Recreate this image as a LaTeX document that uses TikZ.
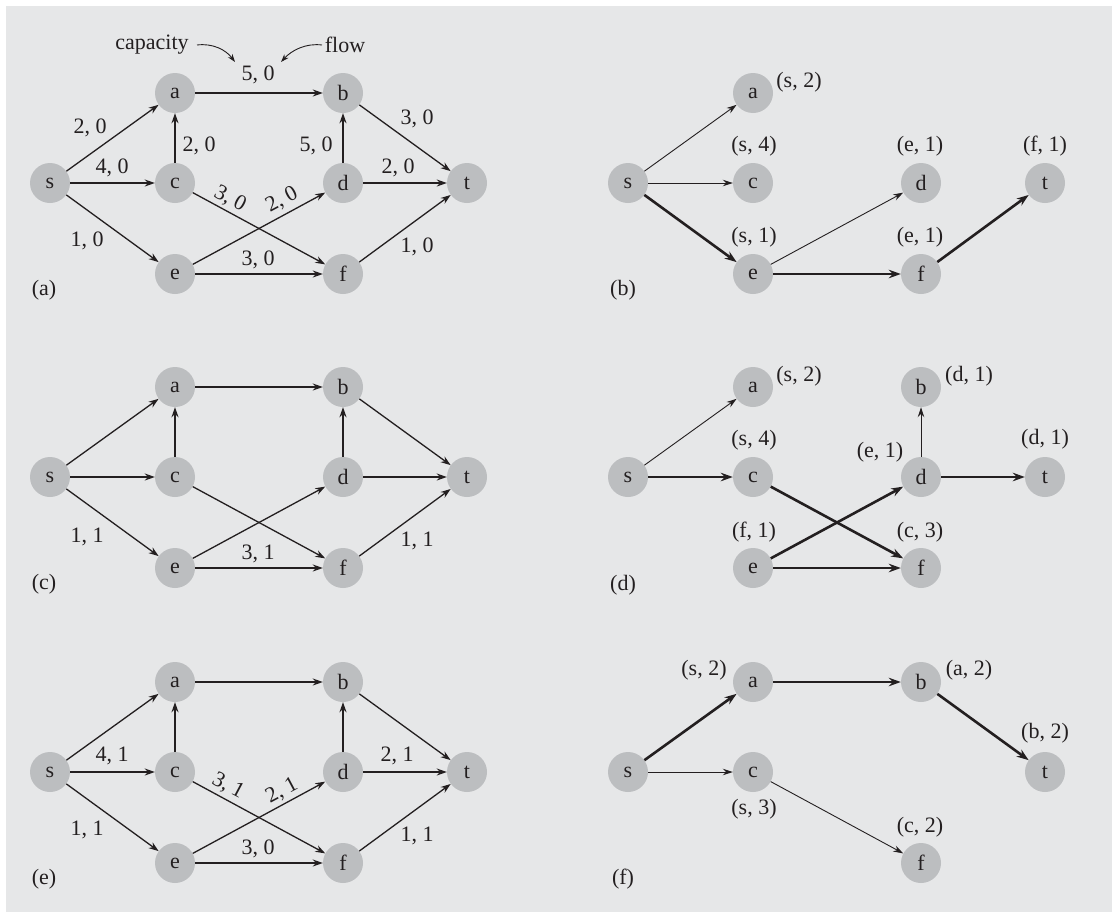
\documentclass[tikz,border=0pt]{standalone}
\usepackage{fontspec}
\setmainfont{Liberation Serif}
\newfontfamily\timesfont{Liberation Serif}
\usetikzlibrary{arrows.meta}
\definecolor{bggray}{HTML}{E6E7E8}
\definecolor{ndgray}{HTML}{BCBEC0}
\definecolor{ink}{HTML}{231F20}
\tikzset{
  vtx/.style={circle, fill=ndgray, minimum size=40bp, inner sep=0pt, font=\timesfont\fontsize{22bp}{24bp}\selectfont, text=ink},
  lab/.style={font=\timesfont\fontsize{22bp}{24bp}\selectfont, text=ink, inner sep=0pt},
  arc/.style={draw=ink, line width=1.3bp, -{Stealth[length=10bp,width=7bp]}},
  narrowarc/.style={draw=ink, line width=0.9bp, -{Stealth[length=10bp,width=6.5bp]}},
  boldarc/.style={draw=ink, line width=2.6bp, -{Stealth[length=12bp,width=8.5bp]}},
  note/.style={draw=ink, line width=0.9bp, -{Stealth[length=8bp,width=5.5bp]}}
}
\newcommand\mknodes[1]{%
  \node[vtx] (#1s) at (50,183) {s};
  \node[vtx] (#1a) at (175,93) {a};
  \node[vtx] (#1c) at (175,183) {c};
  \node[vtx] (#1e) at (175,274) {e};
  \node[vtx] (#1b) at (343,93) {b};
  \node[vtx] (#1d) at (343,183) {d};
  \node[vtx] (#1f) at (343,274) {f};
  \node[vtx] (#1t) at (467,183) {t};
}
\newcommand\fullarcs[1]{%
  \foreach \u/\v in {s/a,s/c,s/e,c/a,a/b,e/d,c/f,e/f,d/b,b/t,d/t,f/t}
    \draw[arc] (#1\u) -- (#1\v);
}
\begin{document}
\begin{tikzpicture}[x=1bp,y=-1bp]
\useasboundingbox (0,0) rectangle (1112,912);
\fill[bggray] (6,6) rectangle (1112,912);

% ---------- (a)
\begin{scope}
  \mknodes{A}
  \fullarcs{A}
  \node[lab] (Acap) at (152,45) {capacity};
  \node[lab] (Aflow) at (345,45) {flow};
  \node[lab] (Lab) at (258,75) {5, 0};
  \coordinate (Acapstart) at (197,45);
  \coordinate (Acapend) at (235,62);
  \coordinate (Aflowstart) at (322,45);
  \coordinate (Aflowend) at (281,62);
  \draw[note] (Acapstart) .. controls (213,43) and (226,50) .. (Acapend);
  \draw[note] (Aflowstart) .. controls (306,43) and (292,50) .. (Aflowend);
  \node[lab] (Lsa) at (90,128) {2, 0};
  \node[lab] (Lsc) at (112,168) {4, 0};
  \node[lab] (Lse) at (87,241) {1, 0};
  \node[lab] (Lca) at (199,146) {2, 0};
  \node[lab] (Ldb) at (316,146) {5, 0};
  \node[lab] (Lbt) at (417,119) {3, 0};
  \node[lab] (Ldt) at (398,168) {2, 0};
  \node[lab] (Lft) at (417,247) {1, 0};
  \node[lab] (Lef) at (258,260) {3, 0};
  \node[lab, rotate=-28] (Lcf) at (230,199) {3, 0};
  \node[lab, rotate=28] (Led) at (282,200) {2, 0};
  \node[lab] (Apanel) at (44,290) {(a)};
\end{scope}

% ---------- (b)
\begin{scope}[shift={(578,0)}]
  \node[vtx] (Bs) at (50,183) {s};
  \node[vtx] (Ba) at (175,93) {a};
  \node[vtx] (Bc) at (175,183) {c};
  \node[vtx] (Be) at (175,274) {e};
  \node[vtx] (Bd) at (343,183) {d};
  \node[vtx] (Bf) at (343,274) {f};
  \node[vtx] (Bt) at (467,183) {t};
  \draw[narrowarc] (Bs) -- (Ba);
  \draw[narrowarc] (Bs) -- (Bc);
  \draw[boldarc] (Bs) -- (Be);
  \draw[narrowarc] (Be) -- (Bd);
  \draw[boldarc] (Be) -- (Bf);
  \draw[boldarc] (Bf) -- (Bt);
  \node[lab] (Bla) at (221,82) {(s, 2)};
  \node[lab] (Blc) at (176,146) {(s, 4)};
  \node[lab] (Bld) at (342,146) {(e, 1)};
  \node[lab] (Blt) at (467,146) {(f, 1)};
  \node[lab] (Ble) at (176,237) {(s, 1)};
  \node[lab] (Blf) at (342,237) {(e, 1)};
  \node[lab] (Bpanel) at (45,290) {(b)};
\end{scope}

% ---------- (c)
\begin{scope}[shift={(0,294)}]
  \mknodes{C}
  \fullarcs{C}
  \node[lab] (Cse) at (87,243) {1, 1};
  \node[lab] (Cef) at (258,260) {3, 1};
  \node[lab] (Cft) at (417,247) {1, 1};
  \node[lab] (Cpanel) at (44,290) {(c)};
\end{scope}

% ---------- (d)
\begin{scope}[shift={(578,294)}]
  \mknodes{D}
  \draw[narrowarc] (Ds) -- (Da);
  \draw[boldarc] (Ds) -- (Dc);
  \draw[boldarc] (Dc) -- (Df);
  \draw[boldarc] (De) -- (Dd);
  \draw[boldarc] (De) -- (Df);
  \draw[narrowarc] (Dd) -- (Db);
  \draw[boldarc] (Dd) -- (Dt);
  \node[lab] (Dla) at (221,82) {(s, 2)};
  \node[lab] (Dlb) at (391,82) {(d, 1)};
  \node[lab] (Dlc) at (176,146) {(s, 4)};
  \node[lab] (Dld) at (302,158) {(e, 1)};
  \node[lab] (Dlt) at (467,145) {(d, 1)};
  \node[lab] (Dle) at (176,238) {(f, 1)};
  \node[lab] (Dlf) at (342,238) {(c, 3)};
  \node[lab] (Dpanel) at (45,291) {(d)};
\end{scope}

% ---------- (e)
\begin{scope}[shift={(0,589)}]
  \mknodes{E}
  \fullarcs{E}
  \node[lab] (Esc) at (112,167) {4, 1};
  \node[lab] (Ese) at (87,241) {1, 1};
  \node[lab, rotate=-28] (Ecf) at (228,197) {3, 1};
  \node[lab, rotate=28] (Eed) at (282,202) {2, 1};
  \node[lab] (Edt) at (397,167) {2, 1};
  \node[lab] (Eef) at (258,260) {3, 0};
  \node[lab] (Eft) at (417,247) {1, 1};
  \node[lab] (Epanel) at (44,290) {(e)};
\end{scope}

% ---------- (f)
\begin{scope}[shift={(578,589)}]
  \node[vtx] (Fs) at (50,183) {s};
  \node[vtx] (Fa) at (175,93) {a};
  \node[vtx] (Fc) at (175,183) {c};
  \node[vtx] (Fb) at (343,93) {b};
  \node[vtx] (Ft) at (467,183) {t};
  \node[vtx] (Ff) at (343,274) {f};
  \draw[boldarc] (Fs) -- (Fa);
  \draw[narrowarc] (Fs) -- (Fc);
  \draw[boldarc] (Fa) -- (Fb);
  \draw[boldarc] (Fb) -- (Ft);
  \draw[narrowarc] (Fc) -- (Ff);
  \node[lab] (Fla) at (126,81) {(s, 2)};
  \node[lab] (Flb) at (391,81) {(a, 2)};
  \node[lab] (Flt) at (467,144) {(b, 2)};
  \node[lab] (Flc) at (176,220) {(s, 3)};
  \node[lab] (Flf) at (342,238) {(c, 2)};
  \node[lab] (Fpanel) at (45,290) {(f)};
\end{scope}
\end{tikzpicture}
\end{document}
